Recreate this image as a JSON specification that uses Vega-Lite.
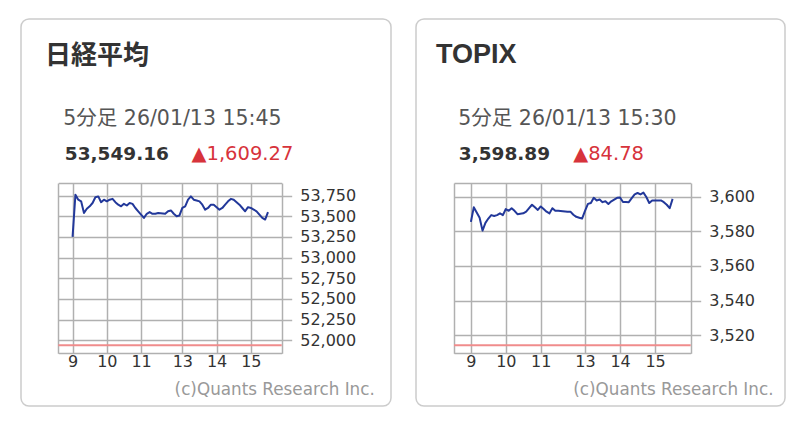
{
 "$schema": "https://vega.github.io/schema/vega-lite/v6.json",
 "padding": {"left": 20, "top": 18, "right": 5, "bottom": 5},
 "background": "white",
 "config": {
   "view": {"stroke": "#cccccc", "strokeWidth": 1.5, "cornerRadius": 8},
   "axis": {"minExtent": 0}
 },
 "spacing": 23,
 "hconcat": [
  {
   "width": 370, "height": 387,
   "title": {"text": "日経平均", "anchor": "start", "frame": "group", "orient": "top", "offset": -71, "dx": 24, "font": "Liberation Sans, Noto Sans CJK JP", "fontSize": 26, "fontWeight": "bold", "color": "#333333", "baseline": "alphabetic"},
   "layer": [
    {
     "data": {"values": [
      {"time": "09:00", "minute": 540, "price": 53250},
      {"time": "09:05", "minute": 545, "price": 53760},
      {"time": "09:10", "minute": 550, "price": 53700},
      {"time": "09:15", "minute": 555, "price": 53680},
      {"time": "09:20", "minute": 560, "price": 53540},
      {"time": "09:25", "minute": 565, "price": 53590},
      {"time": "09:30", "minute": 570, "price": 53620},
      {"time": "09:35", "minute": 575, "price": 53660},
      {"time": "09:40", "minute": 580, "price": 53730},
      {"time": "09:45", "minute": 585, "price": 53740},
      {"time": "09:50", "minute": 590, "price": 53670},
      {"time": "09:55", "minute": 595, "price": 53700},
      {"time": "10:00", "minute": 600, "price": 53680},
      {"time": "10:05", "minute": 605, "price": 53700},
      {"time": "10:10", "minute": 610, "price": 53710},
      {"time": "10:15", "minute": 615, "price": 53670},
      {"time": "10:20", "minute": 620, "price": 53640},
      {"time": "10:25", "minute": 625, "price": 53620},
      {"time": "10:30", "minute": 630, "price": 53650},
      {"time": "10:35", "minute": 635, "price": 53630},
      {"time": "10:40", "minute": 640, "price": 53660},
      {"time": "10:45", "minute": 645, "price": 53650},
      {"time": "10:50", "minute": 650, "price": 53600},
      {"time": "10:55", "minute": 655, "price": 53560},
      {"time": "11:00", "minute": 660, "price": 53520},
      {"time": "11:05", "minute": 665, "price": 53480},
      {"time": "11:10", "minute": 670, "price": 53530},
      {"time": "11:15", "minute": 675, "price": 53550},
      {"time": "11:20", "minute": 680, "price": 53530},
      {"time": "11:25", "minute": 685, "price": 53530},
      {"time": "11:30", "minute": 690, "price": 53540},
      {"time": "12:30", "minute": 750, "price": 53530},
      {"time": "12:35", "minute": 755, "price": 53560},
      {"time": "12:40", "minute": 760, "price": 53570},
      {"time": "12:45", "minute": 765, "price": 53530},
      {"time": "12:50", "minute": 770, "price": 53500},
      {"time": "12:55", "minute": 775, "price": 53510},
      {"time": "13:00", "minute": 780, "price": 53600},
      {"time": "13:05", "minute": 785, "price": 53620},
      {"time": "13:10", "minute": 790, "price": 53700},
      {"time": "13:15", "minute": 795, "price": 53740},
      {"time": "13:20", "minute": 800, "price": 53700},
      {"time": "13:25", "minute": 805, "price": 53690},
      {"time": "13:30", "minute": 810, "price": 53680},
      {"time": "13:35", "minute": 815, "price": 53640},
      {"time": "13:40", "minute": 820, "price": 53580},
      {"time": "13:45", "minute": 825, "price": 53600},
      {"time": "13:50", "minute": 830, "price": 53640},
      {"time": "13:55", "minute": 835, "price": 53640},
      {"time": "14:00", "minute": 840, "price": 53610},
      {"time": "14:05", "minute": 845, "price": 53580},
      {"time": "14:10", "minute": 850, "price": 53600},
      {"time": "14:15", "minute": 855, "price": 53640},
      {"time": "14:20", "minute": 860, "price": 53680},
      {"time": "14:25", "minute": 865, "price": 53710},
      {"time": "14:30", "minute": 870, "price": 53700},
      {"time": "14:35", "minute": 875, "price": 53670},
      {"time": "14:40", "minute": 880, "price": 53640},
      {"time": "14:45", "minute": 885, "price": 53600},
      {"time": "14:50", "minute": 890, "price": 53560},
      {"time": "14:55", "minute": 895, "price": 53610},
      {"time": "15:00", "minute": 900, "price": 53600},
      {"time": "15:05", "minute": 905, "price": 53580},
      {"time": "15:10", "minute": 910, "price": 53560},
      {"time": "15:15", "minute": 915, "price": 53520},
      {"time": "15:20", "minute": 920, "price": 53480},
      {"time": "15:25", "minute": 925, "price": 53460},
      {"time": "15:30", "minute": 930, "price": 53549.16}
     ]},
     "mark": {"type": "line", "color": "#22389a", "strokeWidth": 2, "strokeJoin": "round"},
     "encoding": {
      "x": {"field": "minute", "type": "quantitative",
        "scale": {"domain": [515, 690, 750, 954], "range": [37.3, 137.2, 144.2, 260.7], "nice": false, "zero": false},
        "axis": {"orient": "bottom", "offset": -52.7,
          "values": [540, 600, 660, 780, 840, 900],
          "labelExpr": "'' + datum.value / 60",
          "grid": false, "ticks": false, "domain": false,
          "labelFont": "DejaVu Sans", "labelFontSize": 16, "labelColor": "#333333", "labelPadding": 0.5, "labelFlush": false, "labelOverlap": false,
          "title": "(c)Quants Research Inc.", "titleX": 353.3, "titleY": 35.7, "titleAlign": "right", "titleBaseline": "middle", "titleFont": "DejaVu Sans", "titleFontSize": 16.8, "titleFontWeight": "normal", "titleColor": "#999999"}},
      "y": {"field": "price", "type": "quantitative",
        "scale": {"domain": [51843, 53902], "range": [334.3, 164], "zero": false, "nice": false},
        "axis": {"orient": "right", "offset": -109.3,
          "values": [52000, 52250, 52500, 52750, 53000, 53250, 53500, 53750],
          "format": ",.0f",
          "grid": false, "ticks": true, "tickSize": 10, "tickColor": "#b3b3b3", "tickWidth": 1.5,
          "domain": false, "labelFont": "DejaVu Sans", "labelFontSize": 16, "labelColor": "#333333", "labelPadding": 8, "labelFlush": false, "labelOverlap": false,
          "title": "5分足 26/01/13 15:45", "titleX": -218.9, "titleY": 105.7, "titleAngle": 0, "titleAlign": "left", "titleBaseline": "alphabetic", "titleFont": "DejaVu Sans, Noto Sans CJK JP", "titleFontSize": 20.5, "titleFontWeight": "normal", "titleColor": "#555555"}}
     }
    },
    {
     "data": {"values": [{"prev_close": 51939.89}]},
     "mark": {"type": "rule", "color": "#f08c8c", "strokeWidth": 2},
     "encoding": {
      "y": {"field": "prev_close", "type": "quantitative",
        "scale": {"domain": [51843, 53902], "range": [334.3, 164], "zero": false, "nice": false},
        "axis": {"orient": "left", "labels": false, "ticks": false, "domain": false,
          "values": [51843, 52000, 52250, 52500, 52750, 53000, 53250, 53500, 53750, 53902],
          "grid": true, "gridColor": "#b0b0b0", "gridWidth": 1.5,
          "title": "▲1,609.27", "titleX": 170, "titleY": 140.2, "titleAngle": 0, "titleAlign": "left", "titleBaseline": "alphabetic", "titleFont": "DejaVu Sans", "titleFontSize": 19.5, "titleFontWeight": "normal", "titleColor": "#d7333b"}},
      "x": {"datum": 515, "type": "quantitative",
        "scale": {"domain": [515, 690, 750, 954], "range": [37.3, 137.2, 144.2, 260.7], "nice": false, "zero": false},
        "axis": {"orient": "top", "labels": false, "ticks": false, "domain": false,
          "values": [515, 540, 600, 660, 780, 840, 900, 954],
          "grid": true, "gridColor": "#b0b0b0", "gridWidth": 1.5,
          "title": "53,549.16", "titleX": 43.3, "titleY": 140.2, "titleAlign": "left", "titleBaseline": "alphabetic", "titleFont": "DejaVu Sans", "titleFontSize": 18.5, "titleFontWeight": "bold", "titleColor": "#333333"}},
      "x2": {"datum": 954}
     }
    }
   ],
   "resolve": {"axis": {"x": "independent", "y": "independent"}}
  },
  {
   "width": 369, "height": 387,
   "title": {"text": "TOPIX", "anchor": "start", "frame": "group", "orient": "top", "offset": -71, "dx": 20, "font": "Liberation Sans, Noto Sans CJK JP", "fontSize": 27, "fontWeight": "bold", "color": "#333333", "baseline": "alphabetic"},
   "layer": [
    {
     "data": {"values": [
      {"time": "09:00", "minute": 540, "price": 3585.6},
      {"time": "09:05", "minute": 545, "price": 3594.0},
      {"time": "09:10", "minute": 550, "price": 3591.0},
      {"time": "09:15", "minute": 555, "price": 3588.0},
      {"time": "09:20", "minute": 560, "price": 3580.5},
      {"time": "09:25", "minute": 565, "price": 3585.0},
      {"time": "09:30", "minute": 570, "price": 3587.5},
      {"time": "09:35", "minute": 575, "price": 3589.5},
      {"time": "09:40", "minute": 580, "price": 3589.0},
      {"time": "09:45", "minute": 585, "price": 3589.5},
      {"time": "09:50", "minute": 590, "price": 3590.5},
      {"time": "09:55", "minute": 595, "price": 3589.5},
      {"time": "10:00", "minute": 600, "price": 3593.0},
      {"time": "10:05", "minute": 605, "price": 3592.0},
      {"time": "10:10", "minute": 610, "price": 3593.5},
      {"time": "10:15", "minute": 615, "price": 3592.0},
      {"time": "10:20", "minute": 620, "price": 3590.0},
      {"time": "10:25", "minute": 625, "price": 3590.3},
      {"time": "10:30", "minute": 630, "price": 3590.5},
      {"time": "10:35", "minute": 635, "price": 3591.5},
      {"time": "10:40", "minute": 640, "price": 3593.5},
      {"time": "10:45", "minute": 645, "price": 3595.5},
      {"time": "10:50", "minute": 650, "price": 3594.0},
      {"time": "10:55", "minute": 655, "price": 3592.5},
      {"time": "11:00", "minute": 660, "price": 3594.5},
      {"time": "11:05", "minute": 665, "price": 3593.0},
      {"time": "11:10", "minute": 670, "price": 3591.5},
      {"time": "11:15", "minute": 675, "price": 3590.5},
      {"time": "11:20", "minute": 680, "price": 3593.5},
      {"time": "11:25", "minute": 685, "price": 3592.0},
      {"time": "11:30", "minute": 690, "price": 3592.0},
      {"time": "12:30", "minute": 750, "price": 3591.5},
      {"time": "12:35", "minute": 755, "price": 3591.5},
      {"time": "12:40", "minute": 760, "price": 3589.7},
      {"time": "12:45", "minute": 765, "price": 3588.5},
      {"time": "12:50", "minute": 770, "price": 3588.0},
      {"time": "12:55", "minute": 775, "price": 3587.5},
      {"time": "13:00", "minute": 780, "price": 3592.0},
      {"time": "13:05", "minute": 785, "price": 3596.0},
      {"time": "13:10", "minute": 790, "price": 3596.5},
      {"time": "13:15", "minute": 795, "price": 3599.5},
      {"time": "13:20", "minute": 800, "price": 3598.0},
      {"time": "13:25", "minute": 805, "price": 3598.5},
      {"time": "13:30", "minute": 810, "price": 3597.0},
      {"time": "13:35", "minute": 815, "price": 3597.5},
      {"time": "13:40", "minute": 820, "price": 3596.0},
      {"time": "13:45", "minute": 825, "price": 3597.5},
      {"time": "13:50", "minute": 830, "price": 3598.5},
      {"time": "13:55", "minute": 835, "price": 3599.5},
      {"time": "14:00", "minute": 840, "price": 3599.7},
      {"time": "14:05", "minute": 845, "price": 3597.1},
      {"time": "14:10", "minute": 850, "price": 3597.1},
      {"time": "14:15", "minute": 855, "price": 3597.0},
      {"time": "14:20", "minute": 860, "price": 3599.3},
      {"time": "14:25", "minute": 865, "price": 3601.5},
      {"time": "14:30", "minute": 870, "price": 3602.3},
      {"time": "14:35", "minute": 875, "price": 3601.5},
      {"time": "14:40", "minute": 880, "price": 3602.5},
      {"time": "14:45", "minute": 885, "price": 3600.0},
      {"time": "14:50", "minute": 890, "price": 3596.5},
      {"time": "14:55", "minute": 895, "price": 3598.0},
      {"time": "15:00", "minute": 900, "price": 3598.0},
      {"time": "15:05", "minute": 905, "price": 3598.0},
      {"time": "15:10", "minute": 910, "price": 3598.0},
      {"time": "15:15", "minute": 915, "price": 3597.0},
      {"time": "15:20", "minute": 920, "price": 3595.5},
      {"time": "15:25", "minute": 925, "price": 3593.5},
      {"time": "15:30", "minute": 930, "price": 3598.89}
     ]},
     "mark": {"type": "line", "color": "#22389a", "strokeWidth": 2, "strokeJoin": "round"},
     "encoding": {
      "x": {"field": "minute", "type": "quantitative",
        "scale": {"domain": [511, 690, 750, 961], "range": [38, 142.2, 151.5, 274.7], "nice": false, "zero": false},
        "axis": {"orient": "bottom", "offset": -52.7,
          "values": [540, 600, 660, 780, 840, 900],
          "labelExpr": "'' + datum.value / 60",
          "grid": false, "ticks": false, "domain": false,
          "labelFont": "DejaVu Sans", "labelFontSize": 16, "labelColor": "#333333", "labelPadding": 0.5, "labelFlush": false, "labelOverlap": false,
          "title": "(c)Quants Research Inc.", "titleX": 357, "titleY": 35.7, "titleAlign": "right", "titleBaseline": "middle", "titleFont": "DejaVu Sans", "titleFontSize": 16.8, "titleFontWeight": "normal", "titleColor": "#999999"}},
      "y": {"field": "price", "type": "quantitative",
        "scale": {"domain": [3509.4, 3608.1], "range": [334.3, 164], "zero": false, "nice": false},
        "axis": {"orient": "right", "offset": -94.3,
          "values": [3520, 3540, 3560, 3580, 3600],
          "format": ",.0f",
          "grid": false, "ticks": true, "tickSize": 10, "tickColor": "#b3b3b3", "tickWidth": 1.5,
          "domain": false, "labelFont": "DejaVu Sans", "labelFontSize": 16, "labelColor": "#333333", "labelPadding": 8, "labelFlush": false, "labelOverlap": false,
          "title": "5分足 26/01/13 15:30", "titleX": -232.9, "titleY": 105.7, "titleAngle": 0, "titleAlign": "left", "titleBaseline": "alphabetic", "titleFont": "DejaVu Sans, Noto Sans CJK JP", "titleFontSize": 20.5, "titleFontWeight": "normal", "titleColor": "#555555"}}
     }
    },
    {
     "data": {"values": [{"prev_close": 3514.11}]},
     "mark": {"type": "rule", "color": "#f08c8c", "strokeWidth": 2},
     "encoding": {
      "y": {"field": "prev_close", "type": "quantitative",
        "scale": {"domain": [3509.4, 3608.1], "range": [334.3, 164], "zero": false, "nice": false},
        "axis": {"orient": "left", "labels": false, "ticks": false, "domain": false,
          "values": [3509.4, 3520, 3540, 3560, 3580, 3600, 3608.1],
          "grid": true, "gridColor": "#b0b0b0", "gridWidth": 1.5,
          "title": "▲84.78", "titleX": 156.7, "titleY": 140.2, "titleAngle": 0, "titleAlign": "left", "titleBaseline": "alphabetic", "titleFont": "DejaVu Sans", "titleFontSize": 19.5, "titleFontWeight": "normal", "titleColor": "#d7333b"}},
      "x": {"datum": 511, "type": "quantitative",
        "scale": {"domain": [511, 690, 750, 961], "range": [38, 142.2, 151.5, 274.7], "nice": false, "zero": false},
        "axis": {"orient": "top", "labels": false, "ticks": false, "domain": false,
          "values": [511, 540, 600, 660, 780, 840, 900, 961],
          "grid": true, "gridColor": "#b0b0b0", "gridWidth": 1.5,
          "title": "3,598.89", "titleX": 42.3, "titleY": 140.2, "titleAlign": "left", "titleBaseline": "alphabetic", "titleFont": "DejaVu Sans", "titleFontSize": 18.5, "titleFontWeight": "bold", "titleColor": "#333333"}},
      "x2": {"datum": 961}
     }
    }
   ],
   "resolve": {"axis": {"x": "independent", "y": "independent"}}
  }
 ]
}
